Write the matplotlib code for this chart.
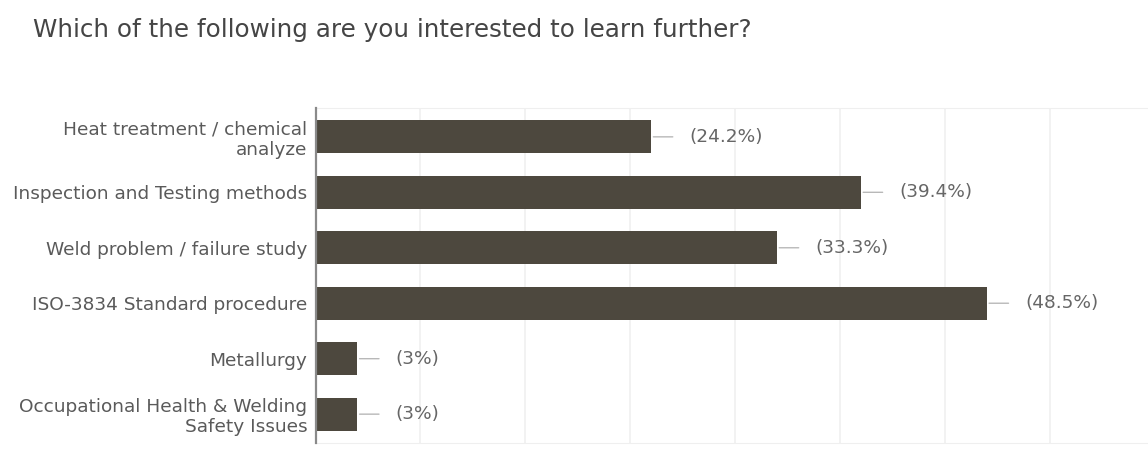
import matplotlib
matplotlib.use("Agg")
import matplotlib.pyplot as plt

plt.rcParams["font.family"] = ["DejaVu Sans"]

title = "Which of the following are you interested to learn further?"
categories = [
    "Heat treatment / chemical\nanalyze",
    "Inspection and Testing methods",
    "Weld problem / failure study",
    "ISO-3834 Standard procedure",
    "Metallurgy",
    "Occupational Health & Welding\nSafety Issues",
]
counts = [8, 13, 11, 16, 1, 1]
total_responses = 33
grid_ticks = [0, 2.5, 5, 7.5, 10, 12.5, 15, 17.5]

W, H = 1148, 454
fig = plt.figure(figsize=(W / 100, H / 100), dpi=100)
fig.patch.set_facecolor("white")

left_px, right_px, top_px, bottom_px = 315.5, 1148, 108, 443
ax = fig.add_axes([left_px / W, 1 - bottom_px / H,
                   (right_px - left_px) / W, (bottom_px - top_px) / H])

y = list(range(len(categories)))
ax.barh(y, counts, height=0.59, color="#4d483e", zorder=3)
ax.set_ylim(len(categories) - 0.48, -0.52)
ax.set_xlim(0, (right_px - left_px) / ((987 - left_px) / 16))

ax.set_xticks(grid_ticks)
ax.tick_params(axis="x", length=0, labelbottom=False)
ax.grid(axis="x", color="#f0f0f0", linewidth=1.2, zorder=0)
ax.set_yticks(y)
ax.set_yticklabels(categories, fontsize=13.3, color="#5a5a5a",
                   linespacing=1.15)
ax.tick_params(axis="y", length=0, pad=6)

ax.spines["right"].set_visible(False)
ax.spines["top"].set_color("#efefef")
ax.spines["bottom"].set_color("#efefef")
ax.spines["left"].set_color("#8a8a8a")
ax.spines["left"].set_linewidth(1.6)
ax.spines["left"].set_zorder(4)

for yi, c in zip(y, counts):
    pct = round(c / total_responses * 100, 1)
    label = f"({pct:g}%)"
    ax.annotate("", xy=(c, yi), xytext=(15.5, 0), textcoords="offset points",
                arrowprops=dict(arrowstyle="-", color="#b8b8b8", lw=1,
                                shrinkA=0, shrinkB=1.5))
    ax.annotate(label, xy=(c, yi), xytext=(27.5, 0), textcoords="offset points",
                ha="left", va="center", fontsize=13.3, color="#666666")

fig.text(33 / W, 1 - 30 / H, title, ha="left", va="center",
         fontsize=17.7, color="#454545")

fig.savefig("out.png", dpi=100, facecolor="white")
